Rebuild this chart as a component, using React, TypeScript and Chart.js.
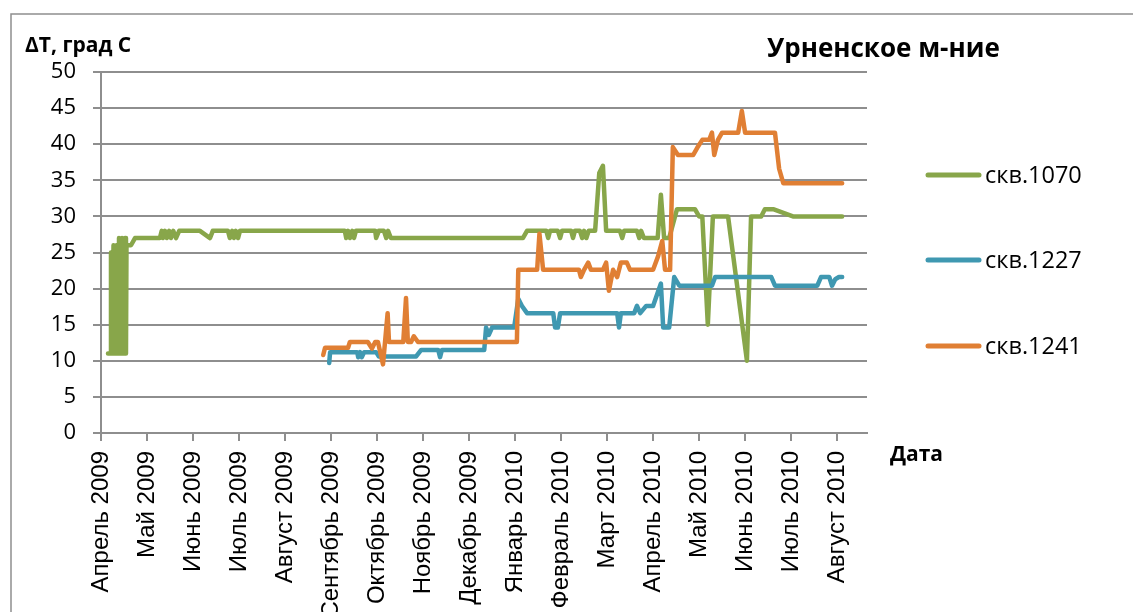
import { useEffect, useRef } from "react";
import { Chart, registerables } from "chart.js";

Chart.register(...registerables);

const chartTitle = "Урненское м-ние";
const yAxisTitle = "ΔT, град С";
const xAxisTitle = "Дата";

const monthLabels = [
  "Апрель 2009", "Май 2009", "Июнь 2009", "Июль 2009", "Август 2009",
  "Сентябрь 2009", "Октябрь 2009", "Ноябрь 2009", "Декабрь 2009",
  "Январь 2010", "Февраль 2010", "Март 2010", "Апрель 2010", "Май 2010",
  "Июнь 2010", "Июль 2010", "Август 2010",
];

const seriesNames = ["скв.1070", "скв.1227", "скв.1241"];
const seriesColors = ["#88a64a", "#3f98b1", "#e07f34"];

// x values: months since 1 April 2009
const well1070Months = [
  0.152, 0.196, 0.217, 0.239, 0.272, 0.304, 0.337, 0.37, 0.391, 0.424, 0.457, 0.489, 0.522, 0.543, 0.554, 0.652, 0.739,
  1.28, 1.32, 1.35, 1.39, 1.43, 1.48, 1.52, 1.57, 1.63, 1.7,
  2.15, 2.37, 2.43, 2.76, 2.8, 2.85, 2.89, 2.93, 2.98, 3.02,
  5.3, 5.33, 5.37, 5.41, 5.46, 5.5, 5.54, 5.96, 5.98, 6.04, 6.15, 6.2, 6.24, 6.3,
  9.17, 9.26, 9.68, 9.72, 9.76, 9.93, 9.98, 10.02, 10.22, 10.26, 10.3, 10.41, 10.46, 10.5, 10.55, 10.6,
  10.74, 10.83, 10.91, 10.98, 11.28, 11.33, 11.37, 11.65, 11.7, 11.74, 11.8, 12.1, 12.17, 12.24, 12.35,
  12.52, 12.91, 13.0, 13.07, 13.19, 13.3, 13.63, 14.04, 14.13, 14.35, 14.43, 14.61, 15.04, 16.11,
];
const well1070Values = [
  11, 11, 25, 11, 26, 11, 26, 11, 27, 11, 27, 11, 27, 11, 26, 26, 27,
  27, 28, 27, 28, 27, 28, 27, 28, 27, 28,
  28, 27, 28, 28, 27, 28, 27, 28, 27, 28,
  28, 27, 28, 27, 28, 27, 28, 28, 27, 28, 28, 27, 28, 27,
  27, 28, 28, 27, 28, 28, 27, 28, 28, 27, 28, 28, 27, 28, 27, 28,
  28, 36, 37, 28, 28, 27, 28, 28, 27, 28, 27, 27, 33, 27, 27,
  31, 31, 30, 30, 15, 30, 30, 10, 30, 30, 31, 31, 30, 30,
];

const well1227Months = [
  4.96, 4.98, 5.57, 5.59, 5.63, 5.67, 5.72, 5.98, 6.04, 6.85, 6.96, 7.33, 7.37, 7.41,
  8.33, 8.37, 8.43, 8.5, 8.98, 9.07, 9.15, 9.26, 9.83, 9.87, 9.93, 9.98,
  11.22, 11.26, 11.3, 11.59, 11.65, 11.72, 11.85, 12.0, 12.17, 12.22, 12.35, 12.46, 12.57,
  13.28, 13.35, 14.57, 14.65, 15.57, 15.65, 15.83, 15.89, 15.96, 16.04, 16.11,
];
const well1227Values = [
  9.7, 11.2, 11.2, 10.5, 11.2, 10.5, 11.2, 11.2, 10.6, 10.6, 11.5, 11.5, 10.5, 11.5,
  11.5, 14.6, 13.6, 14.6, 14.6, 18.6, 17.6, 16.6, 16.6, 14.6, 14.6, 16.6,
  16.6, 14.6, 16.6, 16.6, 17.6, 16.6, 17.6, 17.6, 20.7, 14.6, 14.6, 21.6, 20.4,
  20.4, 21.6, 21.6, 20.4, 20.4, 21.6, 21.6, 20.4, 21.3, 21.6, 21.6,
];

const well1241Months = [
  4.83, 4.87, 5.37, 5.41, 5.8, 5.89, 5.96, 6.02, 6.13, 6.23, 6.26, 6.57, 6.63, 6.67, 6.74, 6.8, 6.89,
  9.04, 9.07, 9.48, 9.53, 9.61, 10.39, 10.43, 10.5, 10.59, 10.65, 10.91, 10.98, 11.04, 11.13, 11.22,
  11.3, 11.43, 11.5, 12.0, 12.11, 12.2, 12.26, 12.37, 12.43, 12.54, 12.87, 12.96, 13.07, 13.22,
  13.28, 13.33, 13.41, 13.5, 13.85, 13.93, 14.0, 14.65, 14.74, 14.83, 16.11,
];
const well1241Values = [
  10.8, 11.8, 11.8, 12.6, 12.6, 11.7, 12.6, 12.6, 9.5, 16.6, 12.6, 12.6, 18.7, 12.6, 12.6, 13.4, 12.6,
  12.6, 22.6, 22.6, 27.6, 22.6, 22.6, 21.6, 22.6, 23.6, 22.6, 22.6, 23.6, 19.7, 22.6, 21.6,
  23.6, 23.6, 22.6, 22.6, 24.5, 26.6, 22.6, 22.6, 39.6, 38.5, 38.5, 39.5, 40.6, 40.6,
  41.6, 38.5, 40.6, 41.6, 41.6, 44.6, 41.6, 41.6, 36.6, 34.6, 34.6,
];

const yMin = 0;
const yMax = 50;
const yStep = 5;
const xMax = 16.65;

const toPoints = (xs: number[], ys: number[]) => xs.map((x, i) => ({ x, y: ys[i] }));

const gridColor = "#8e8e8e";

const decorPlugin = {
  id: "decor",
  afterDraw(chart: any) {
    const ctx = chart.ctx as CanvasRenderingContext2D;
    ctx.save();
    ctx.strokeStyle = gridColor;
    ctx.lineWidth = 1.5;
    ctx.strokeRect(11, 14, 1300, 800);

    ctx.fillStyle = "#000";
    ctx.textAlign = "left";
    ctx.textBaseline = "alphabetic";
    ctx.font = 'bold 26px "Open Sans"';
    ctx.fillText(chartTitle, 767, 57);
    ctx.font = 'bold 21px "Open Sans"';
    ctx.fillText(yAxisTitle, 25, 52);
    ctx.font = 'bold 21px "Open Sans"';
    ctx.fillText(xAxisTitle, 890, 461);

    const legendYs = [175, 260, 346];
    seriesNames.forEach((name, i) => {
      const y = legendYs[i];
      ctx.strokeStyle = seriesColors[i];
      ctx.lineWidth = 5;
      ctx.lineCap = "round";
      ctx.beginPath();
      ctx.moveTo(928, y);
      ctx.lineTo(979, y);
      ctx.stroke();
      ctx.font = '23.5px "Open Sans"';
      ctx.fillStyle = "#000";
      ctx.fillText(name, 985, y + 8);
    });
    ctx.restore();
  },
};

export default function App() {
  const canvasRef = useRef<HTMLCanvasElement | null>(null);

  useEffect(() => {
    if (!canvasRef.current) return;
    const allSeries = [
      toPoints(well1070Months, well1070Values),
      toPoints(well1227Months, well1227Values),
      toPoints(well1241Months, well1241Values),
    ];
    const chart = new Chart(canvasRef.current, {
      type: "line",
      data: {
        datasets: allSeries.map((pts, i) => ({
          label: seriesNames[i],
          data: pts,
          borderColor: seriesColors[i],
          backgroundColor: seriesColors[i],
          borderWidth: 4.5,
          pointRadius: 0,
          tension: 0,
          borderJoinStyle: "round" as const,
          borderCapStyle: "round" as const,
          order: 2 - i,
        })),
      },
      options: {
        animation: false,
        responsive: false,
        maintainAspectRatio: false,
        devicePixelRatio: 1,
        layout: { padding: { left: 0, top: 72, right: 1133 - 867, bottom: 0 } },
        plugins: { legend: { display: false }, tooltip: { enabled: false }, title: { display: false } },
        scales: {
          x: {
            type: "linear",
            min: 0,
            max: xMax,
            afterBuildTicks: (axis: any) => {
              axis.ticks = monthLabels.map((_, i) => ({ value: i }));
            },
            afterFit: (scale: any) => {
              scale.height = 612 - 433;
            },
            grid: {
              display: true,
              drawOnChartArea: false,
              drawTicks: true,
              tickLength: 8,
              color: gridColor,
              lineWidth: 2,
            },
            border: { display: true, color: gridColor, width: 2 },
            ticks: {
              autoSkip: false,
              minRotation: 90,
              maxRotation: 90,
              padding: 10,
              color: "#000",
              font: { family: '"Liberation Sans", Arial, sans-serif', size: 24 },
              callback: (v: any) => monthLabels[Math.round(Number(v))] ?? "",
            },
          },
          y: {
            type: "linear",
            min: yMin,
            max: yMax,
            afterFit: (scale: any) => {
              scale.width = 101;
            },
            grid: { color: gridColor, lineWidth: 2, drawTicks: true, tickLength: 8 },
            border: { display: true, color: gridColor, width: 2 },
            ticks: {
              stepSize: yStep,
              padding: 17,
              color: "#000",
              font: { family: '"Open Sans", sans-serif', size: 22 },
            },
          },
        },
      },
      plugins: [decorPlugin],
    });
    return () => chart.destroy();
  }, []);

  return (
    <div style={{ position: "fixed", left: 0, top: 0, width: 1133, height: 612, background: "#fff" }}>
      <canvas ref={canvasRef} width={1133} height={612} style={{ display: "block" }} />
    </div>
  );
}
